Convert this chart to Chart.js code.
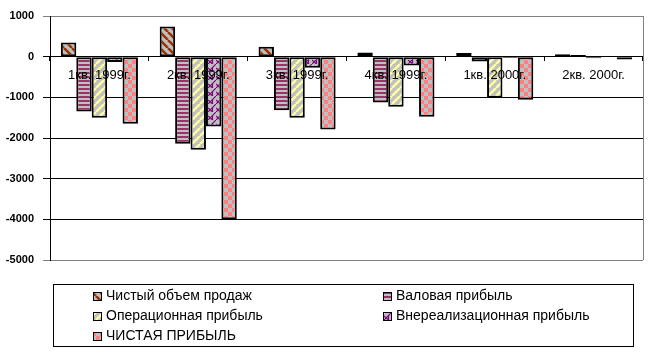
<!DOCTYPE html>
<html>
<head>
<meta charset="utf-8">
<script src="https://cdn.jsdelivr.net/npm/chart.js@4/dist/chart.umd.min.js"></script>
<style>
  body { margin: 0; background: #fff; }
  canvas { display: block; }
</style>
</head>
<body>
<canvas id="chart" width="648" height="358"></canvas>
<script>
// данные по кварталам
const quarters = ['1кв. 1999г.', '2кв. 1999г.', '3кв. 1999г.', '4кв. 1999г.', '1кв. 2000г.', '2кв. 2000г.'];
const sales = [350, 740, 245, 100, 90, 60];
const grossProfit = [-1350, -2140, -1320, -1130, -120, 40];
const operatingProfit = [-1500, -2290, -1500, -1230, -1010, -40];
const nonOperatingProfit = [-130, -1720, -270, -220, -30, 0];
const netProfit = [-1650, -4000, -1790, -1480, -1060, -70];
const yTicks = [1000, 0, -1000, -2000, -3000, -4000, -5000];

const GRAY = '#c0c0c0';
const FONT = 'Arial, "Liberation Sans", sans-serif';

function tile(size, draw) {
    const c = document.createElement('canvas');
    c.width = size; c.height = size;
    const g = c.getContext('2d');
    g.fillStyle = GRAY;
    g.fillRect(0, 0, size, size);
    draw(g, size);
    return document.getElementById('chart').getContext('2d').createPattern(c, 'repeat');
}

function stripes(color, dir, w) {
    return tile(8, (g, s) => {
        g.strokeStyle = color;
        g.lineWidth = w;
        for (let o = -s; o <= s; o += s) {
            g.beginPath();
            if (dir > 0) { g.moveTo(o, s); g.lineTo(o + s, 0); }
            else { g.moveTo(o, 0); g.lineTo(o + s, s); }
            g.stroke();
        }
    });
}

const patSales = stripes('#993300', -1, 2.5);
const patOper = stripes('#ffffa0', 1, 2.5);
const patGross = tile(4, (g) => {
    g.fillStyle = '#993366';
    g.fillRect(0, 0, 4, 2);
});
const patNonOp = tile(8, (g) => {
    g.strokeStyle = '#800080';
    g.lineWidth = 1.2;
    g.beginPath();
    g.moveTo(0, 8); g.lineTo(8, 0);
    g.moveTo(4.5, 3.5); g.lineTo(4.5, 8);
    g.moveTo(0, 4); g.lineTo(4.5, 8);
    g.stroke();
});
const patNet = tile(8, (g) => {
    g.fillStyle = '#ff8080';
    g.fillRect(0, 0, 4, 4);
    g.fillRect(4, 4, 4, 4);
});

function ds(label, data, fill) {
    return {
        label: label,
        data: data,
        backgroundColor: fill,
        borderColor: '#000',
        borderWidth: 2,
        borderSkipped: false,
        barPercentage: 1,
        categoryPercentage: 0.78
    };
}

// легенда в рамке, две колонки
const legendPlugin = {
    id: 'boxLegend',
    afterDraw(chart) {
        const ctx = chart.ctx;
        ctx.save();
        ctx.strokeStyle = '#000';
        ctx.lineWidth = 1;
        ctx.strokeRect(53.5, 284.5, 580, 62);
        const cols = [93, 383];
        const rows = [292, 312, 332];
        ctx.font = '14px ' + FONT;
        ctx.textBaseline = 'middle';
        chart.data.datasets.forEach((d, i) => {
            const x = cols[i % 2];
            const y = rows[Math.floor(i / 2)];
            ctx.fillStyle = d.backgroundColor;
            ctx.fillRect(x, y, 8, 8);
            ctx.strokeRect(x + 0.5, y + 0.5, 8, 8);
            ctx.fillStyle = '#000';
            ctx.fillText(d.label, x + 13, y + 4.5);
        });
        ctx.restore();
    },
    beforeDatasetsDraw(chart) {
        const a = chart.chartArea;
        const ctx = chart.ctx;
        ctx.save();
        ctx.strokeStyle = '#808080';
        ctx.lineWidth = 1;
        ctx.beginPath();
        ctx.moveTo(Math.round(a.right) + 0.5, a.top);
        ctx.lineTo(Math.round(a.right) + 0.5, a.bottom);
        ctx.stroke();
        ctx.restore();
    }
};

new Chart(document.getElementById('chart'), {
    type: 'bar',
    data: {
        labels: quarters,
        datasets: [
            ds('Чистый объем продаж', sales, patSales),
            ds('Валовая прибыль', grossProfit, patGross),
            ds('Операционная прибыль', operatingProfit, patOper),
            ds('Внереализационная прибыль', nonOperatingProfit, patNonOp),
            ds('ЧИСТАЯ ПРИБЫЛЬ', netProfit, patNet)
        ]
    },
    options: {
        responsive: false,
        animation: false,
        layout: { padding: { top: 16, right: 5, bottom: 98, left: 0 } },
        plugins: { legend: { display: false }, tooltip: { enabled: false } },
        scales: {
            x: {
                position: { y: 0 },
                offset: true,
                grid: { drawOnChartArea: false, tickLength: 4, color: '#000' },
                border: { color: '#000' },
                ticks: { z: 1, color: '#000', font: { family: FONT, size: 13 }, padding: 7, maxRotation: 0, autoSkip: false }
            },
            y: {
                min: -5000,
                max: 1000,
                afterFit: s => { s.width = 50; },
                afterBuildTicks: s => { s.ticks = yTicks.map(v => ({ value: v })); },
                grid: {
                    tickLength: 7,
                    color: c => (c.tick && (c.tick.value === 1000 || c.tick.value === -5000)) ? '#808080' : '#000'
                },
                border: { color: '#000' },
                ticks: { color: '#000', font: { family: FONT, size: 11, weight: 'bold' }, padding: 9, callback: v => String(v) }
            }
        }
    },
    plugins: [legendPlugin]
});
</script>
</body>
</html>
